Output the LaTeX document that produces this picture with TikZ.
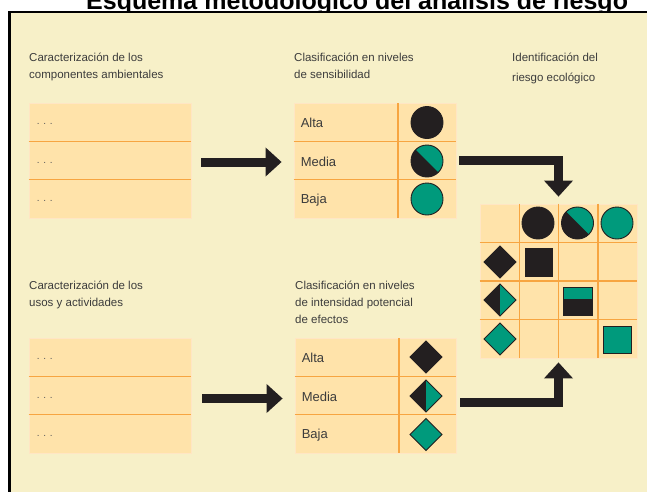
\documentclass[tikz,border=0pt]{standalone}
\usepackage{fontspec}
\setmainfont{Liberation Sans}
\usetikzlibrary{arrows.meta,calc}
\definecolor{bgc}{HTML}{F7F0C8}
\definecolor{cellc}{HTML}{FFE3AA}
\definecolor{orng}{HTML}{F7A541}
\definecolor{edge}{HTML}{FFE6C4}
\definecolor{dark}{HTML}{231F20}
\definecolor{tealc}{HTML}{009A7C}
\definecolor{txt}{HTML}{3C3C3C}
\definecolor{dotc}{HTML}{5A5A5A}
\begin{document}
\begin{tikzpicture}[x=1pt,y=-1pt,
  lbl/.style={anchor=north west, inner sep=0pt, align=left, text=txt, font=\fontsize{11.5}{17}\selectfont},
  celltext/.style={anchor=west, inner sep=0pt, text=txt, font=\fontsize{13}{13}\selectfont},
  dots/.style={anchor=west, inner sep=0pt, text=dotc, font=\fontsize{10}{10}\selectfont},
  tbl/.style={draw=edge, line width=0.8pt, fill=cellc, inner sep=0pt},
  gridline/.style={draw=orng, line width=1.1pt},
  blockarrow/.style={draw=dark, line width=9pt, line join=miter, -{Triangle[width=28pt,length=16pt]}},
  shp/.style={draw=dark, line width=0.9pt}]
\useasboundingbox (0,0) rectangle (647,491);
\clip (0,0) rectangle (647,491);
\fill[white] (0,0) rectangle (647,491);
% title (cut off by the page edge, as in the reference)
\node[anchor=base west, inner sep=0pt, font=\bfseries\fontsize{25}{25}\selectfont] (title) at (86,9) {Esquema metodológico del análisis de riesgo};
% frame
\fill[bgc] (10,13) rectangle (660,500);
\draw[line width=2.6pt] (9.5,500) -- (9.5,12) -- (660,12);

% labels
\node[lbl] (l1) at (29,53) {Caracterización de los\\componentes ambientales};
\node[lbl] (l2) at (294,53) {Clasificación en niveles\\de sensibilidad};
\node[lbl, font=\fontsize{11.5}{20}\selectfont] (l3) at (512,53) {Identificación del\\riesgo ecológico};
\node[lbl] (l4) at (29,281) {Caracterización de los\\usos y actividades};
\node[lbl] (l5) at (295,281) {Clasificación en niveles\\de intensidad potencial\\de efectos};

% left top table
\node[tbl, minimum width=162pt, minimum height=115pt] (ca) at (110,160.5) {};
\foreach \f in {1,2}
  \draw[gridline] ($(ca.north west)!\f/3!(ca.south west)$) -- ($(ca.north east)!\f/3!(ca.south east)$);
\foreach \f in {1,3,5}
  \node[dots] (ca-d\f) at ($(ca.north west)!\f/6!(ca.south west)+(8,2)$) {. . .};

% left bottom table
\node[tbl, minimum width=162pt, minimum height=115pt] (cu) at (110,395.5) {};
\foreach \f in {1,2}
  \draw[gridline] ($(cu.north west)!\f/3!(cu.south west)$) -- ($(cu.north east)!\f/3!(cu.south east)$);
\foreach \f in {1,3,5}
  \node[dots] (cu-d\f) at ($(cu.north west)!\f/6!(cu.south west)+(8,2)$) {. . .};

% middle top table
\node[tbl, minimum width=162pt, minimum height=115pt] (cs) at (375,160.5) {};
\foreach \f in {1,2}
  \draw[gridline] ($(cs.north west)!\f/3!(cs.south west)$) -- ($(cs.north east)!\f/3!(cs.south east)$);
\draw[gridline] (398,103) -- (398,218);
\node[celltext] (cs-a) at ($(cs.north west)!1/6!(cs.south west)+(7,1)$) {Alta};
\node[celltext] (cs-m) at ($(cs.north west)!3/6!(cs.south west)+(7,1)$) {Media};
\node[celltext] (cs-b) at ($(cs.north west)!5/6!(cs.south west)+(7,1)$) {Baja};
\filldraw[fill=dark, shp] (427,122.5) circle (16);
\fill[dark] (427,161) circle (16);
\fill[tealc] ($(427,161)+(45:16)$) arc[start angle=45, end angle=-135, radius=16] -- cycle;
\draw[shp] (427,161) circle (16);
\filldraw[fill=tealc, shp] (427,199) circle (16);

% middle bottom table
\node[tbl, minimum width=161pt, minimum height=115pt] (ci) at (375.5,395.5) {};
\foreach \f in {1,2}
  \draw[gridline] ($(ci.north west)!\f/3!(ci.south west)$) -- ($(ci.north east)!\f/3!(ci.south east)$);
\draw[gridline] (399,338) -- (399,453);
\node[celltext] (ci-a) at ($(ci.north west)!1/6!(ci.south west)+(7,1)$) {Alta};
\node[celltext] (ci-m) at ($(ci.north west)!3/6!(ci.south west)+(7,1)$) {Media};
\node[celltext] (ci-b) at ($(ci.north west)!5/6!(ci.south west)+(7,1)$) {Baja};
\filldraw[fill=dark, shp] (426,341) -- (442,357) -- (426,373) -- (410,357) -- cycle;
\fill[dark] (426,380) -- (442,396) -- (426,412) -- (410,396) -- cycle;
\fill[tealc] (426,380) -- (442,396) -- (426,412) -- cycle;
\draw[shp] (426,380) -- (442,396) -- (426,412) -- (410,396) -- cycle;
\filldraw[fill=tealc, shp] (426,418.5) -- (442,434.5) -- (426,450.5) -- (410,434.5) -- cycle;

% matrix
\node[tbl, minimum width=157pt, minimum height=154pt] (mat) at (558.5,281) {};
\foreach \f in {1,2,3} {
  \draw[gridline] ($(mat.north west)!\f/4!(mat.south west)$) -- ($(mat.north east)!\f/4!(mat.south east)$);
  \draw[gridline] ($(mat.north west)!\f/4!(mat.north east)$) -- ($(mat.south west)!\f/4!(mat.south east)$);
}
% header circles
\filldraw[fill=dark, shp] (538,223) circle (16);
\fill[dark] (577.5,223) circle (16);
\fill[tealc] ($(577.5,223)+(45:16)$) arc[start angle=45, end angle=-135, radius=16] -- cycle;
\draw[shp] (577.5,223) circle (16);
\filldraw[fill=tealc, shp] (617,223) circle (16);
% header diamonds
\filldraw[fill=dark, shp] (500,246) -- (516,262) -- (500,278) -- (484,262) -- cycle;
\fill[dark] (500,284) -- (516,300) -- (500,316) -- (484,300) -- cycle;
\fill[tealc] (500,284) -- (516,300) -- (500,316) -- cycle;
\draw[shp] (500,284) -- (516,300) -- (500,316) -- (484,300) -- cycle;
\filldraw[fill=tealc, shp] (500,323) -- (516,339) -- (500,355) -- (484,339) -- cycle;
% result squares
\filldraw[fill=dark, shp] (525,248) rectangle (552,276);
\fill[dark] (563,287) rectangle (592,315);
\fill[tealc] (563,287) rectangle (592,299);
\draw[shp] (563,287) rectangle (592,315);
\filldraw[fill=tealc, shp] (603,326) rectangle (631,353);

% arrows
\draw[blockarrow] ($(ca.east)+(10,1.5)$) -- ($(cs.west)+(-12,1.5)$);
\draw[blockarrow] ($(cu.east)+(11,3)$) -- ($(ci.west)+(-12,3)$);
\draw[blockarrow] ($(cs.east)+(3,0)$) -| ($(mat.north)+(0,-7)$);
\draw[blockarrow] ($(ci.east)+(4,6.5)$) -| ($(mat.south)+(0,4)$);
\end{tikzpicture}
\end{document}
